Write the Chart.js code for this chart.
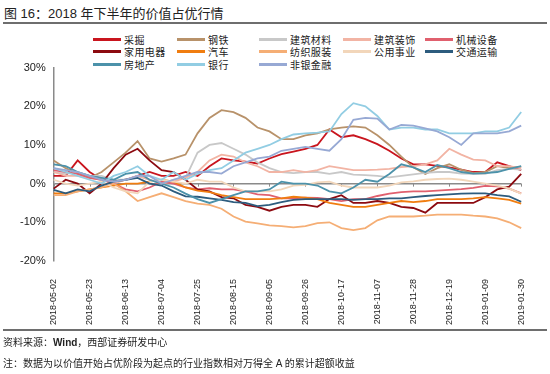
<!DOCTYPE html>
<html>
<head>
<meta charset="utf-8">
<script src="https://cdn.jsdelivr.net/npm/chart.js@4.4.1/dist/chart.umd.min.js"></script>
<style>
  body { margin: 0; width: 550px; height: 374px; background: #fff; position: relative; overflow: hidden;
         font-family: "Liberation Sans", Arial, "Noto Sans CJK SC", sans-serif; color: #222; }
  .title { position: absolute; left: 4px; top: 3px; font-size: 13px; white-space: nowrap; }
  .rule { position: absolute; left: 3px; width: 544px; height: 2px; background: #6e6e6e; }
  #legend .item { position: absolute; display: flex; align-items: center; height: 12px;
                  font-size: 10px; letter-spacing: 0.4px; white-space: nowrap; font-family: "Noto Sans CJK SC", sans-serif; }
  #legend .line { display: inline-block; width: 28px; height: 3px; margin-right: 3px; }
  .chart-box { position: absolute; left: 0; top: 53px; width: 550px; height: 290px; }
  .note { position: absolute; left: 3px; font-size: 10px; white-space: nowrap; }
</style>
</head>
<body>
<div class="title">图 16：2018 年下半年的价值占优行情</div>
<div class="rule" style="top:22px"></div>
<div id="legend"></div>
<div class="chart-box"><canvas id="chart"></canvas></div>
<div class="rule" style="top:329px"></div>
<div class="note" style="top:334px">资料来源：<b>Wind</b>，西部证券研发中心</div>
<div class="note" style="top:355px">注：数据为以价值开始占优阶段为起点的行业指数相对万得全 A 的累计超额收益</div>

<script>
// weekly dates, tick label every 3rd one (21 days)
const dates = [
  '2018-05-02', '2018-05-09', '2018-05-16', '2018-05-23', '2018-05-30', '2018-06-06', '2018-06-13',
  '2018-06-20', '2018-06-27', '2018-07-04', '2018-07-11', '2018-07-18', '2018-07-25', '2018-08-01',
  '2018-08-08', '2018-08-15', '2018-08-22', '2018-08-29', '2018-09-05', '2018-09-12', '2018-09-19',
  '2018-09-26', '2018-10-03', '2018-10-10', '2018-10-17', '2018-10-24', '2018-10-31', '2018-11-07',
  '2018-11-14', '2018-11-21', '2018-11-28', '2018-12-05', '2018-12-12', '2018-12-19', '2018-12-26',
  '2019-01-02', '2019-01-09', '2019-01-16', '2019-01-23', '2019-01-30'
];

const seriesNames = ['采掘', '钢铁', '建筑材料', '建筑装饰', '机械设备',
                     '家用电器', '汽车', '纺织服装', '公用事业', '交通运输',
                     '房地产', '银行', '非银金融'];

// cumulative excess return, %
const mining = [2, 2, 6, 3, 1, 0.5, 1, 2, 3, 2, 2, 3, 2, 4.5, 6.5, 6, 5.7, 5.2, 6.5, 7.6,
                8.3, 9, 10, 14, 12, 12.5, 11.5, 10.2, 8.5, 6.5, 5, 5, 4.6, 4.2, 3.6, 3, 3, 5.5, 4.5, 3.5];
const steel = [6, 4, 2.5, 1.5, 3, 5.5, 8, 11, 6.5, 5.7, 6.5, 7.5, 13, 17, 19, 18.5, 17, 14.5, 13.5, 11.5,
               11.5, 12.5, 13, 14, 14.5, 14.8, 14.5, 12.5, 10, 7, 4.2, 2.5, 4, 5, 3.6, 2.7, 3, 4.5, 4, 4.4];
const buildingMaterials = [3, 2.5, 3, 2, 2, 1, 1, 2, 1, 0, 1, 1.5, 8, 10, 10.5, 9, 7.5, 5.5, 4, 3,
                           2.7, 3, 3, 2.5, 3, 2.3, 2.2, 2, 1.6, 2, 2.4, 2.8, 3, 3, 2.6, 2.5, 2.5, 3.5, 3.8, 3.6];
const buildingDecoration = [3, 2, 2, 1.5, 1, 0, 1, 2, 1, 0, 0.5, 1.5, 3, 6, 7.5, 7, 5.5, 4.5, 3, 3,
                            3.5, 3, 3.5, 4.5, 4, 3.5, 3.5, 3.6, 3.8, 4.3, 4.5, 5, 6, 9, 7.5, 6.2, 6, 4.5, 4.5, 4];
const machinery = [3.5, 3, 2.5, 1.5, 1, 0, -1.5, -2, -1, 0.5, 0, -1, -1.5, -1.2, -1.5, -1.5, -2, -2.8, -3, -3.8,
                   -3.8, -3.6, -3.7, -4, -4.5, -4, -4, -3.2, -2.6, -2.2, -2, -2, -1.8, -1.6, -1.4, -1.1, -0.6, -0.7, -1.3, -2.5];
const homeAppliances = [-1.3, 1, 0, -2.5, 0, 4, 7.5, 9, 6, 3.5, 3, 1, -1.5, -2, -3.5, -3.8, -5.5, -6, -7, -6,
                        -5.5, -5.5, -6, -4, -3, -5, -5, -4.5, -5, -6, -6.3, -7.5, -5, -5, -5, -5, -3.5, -1.5, -0.8, 2.5];
const autos = [-2.5, -2.5, -2, -1.5, -1, -0.5, 0, 0, 0.5, 1, 0.5, -1, -1.8, -2.2, -3, -3.5, -4, -4, -4, -3.8,
               -3.4, -3.6, -4, -5, -5.5, -6, -6, -5.5, -5, -4.5, -4.8, -4.5, -4, -4, -4, -3.8, -3.5, -3.8, -4.2, -5.2];
const textiles = [-3, -3, -2, -1.5, -1, 0, -2, -4.5, -3.5, -2.5, -3.5, -4.5, -5.2, -5.5, -6.5, -8.5, -9.8, -10.3, -10.8, -11,
                  -11.3, -11, -10.2, -10, -11.5, -12, -11.5, -9.5, -8.5, -8.5, -8.5, -8.3, -8, -8, -8, -8.3, -8.5, -9, -10, -11.5];
const utilities = [1, 0, -0.5, 0, 0.5, -1, -2, -2.5, 0.5, 1, 0.5, 0, 1, 0.5, 0.5, -1, -2, -2, -2, -1.5,
                   -0.5, -0.3, 0.3, 0.5, -0.5, -1, -1, -1, -0.5, 0.3, 0.6, 1, 1.2, 1.3, 1, 0.5, 0, -0.5, -1.3, -2.6];
const transport = [-1.6, -2.5, -1.5, -2, -0.5, 0.5, 1, 1.5, 0, -0.5, -2, -3.3, -3.4, -3.8, -4.2, -4.8, -5, -5.8, -5.5, -4.8,
                   -4.2, -4, -4, -4, -4, -4.2, -4, -4, -3.8, -3.8, -3.5, -3.2, -3, -2.8, -2.6, -2.5, -2.5, -3, -3.3, -4.7];
const realEstate = [5, 4.5, 3, 2, 1.5, 1, 2.5, 3, 1, 0, -1, -2.6, -4, -5, -4, -3, -2, -2, -1.5, 0.5,
                    0, 0, -0.5, -2, -2.5, -1, 1, 0.5, 2.5, 5, 4.2, 3, 4.8, 4, 3, 2.6, 2.7, 3, 3.8, 4.5];
const banks = [4, 3, 2, 1, 0, 2, 3, 4.5, 2, 1, 3, 1, 2.5, 3.5, 4, 6, 8, 9, 10, 11.5,
               12.7, 13, 13.2, 13.5, 18, 20.8, 20, 17.5, 14, 14.5, 14.5, 14, 14, 13, 13, 13, 13.5, 13.5, 14.5, 18.5];
const nonBank = [4, 3.5, 3, 2, 1, 0.5, 1, 2, 2, 0, 1, 2, 3, 3, 2.6, 4.5, 5.5, 6.5, 7, 8.5,
                 9, 9.5, 9, 8.5, 11.5, 16.5, 17, 16.8, 14, 15.2, 15, 14.3, 13.5, 12, 10, 13, 13, 13, 13.5, 15];

const seriesData = [mining, steel, buildingMaterials, buildingDecoration, machinery,
                    homeAppliances, autos, textiles, utilities, transport,
                    realEstate, banks, nonBank];

const colors = ['#c9151e', '#b8926a', '#c8c8c8', '#f2b4a4', '#e0606e',
                '#8c0a10', '#f07d10', '#f5ae75', '#f2d6ba', '#2d5c7e',
                '#4c92aa', '#92cde3', '#97a9d4'];

// legend, 5 per row like the original
const legendCols = [93, 177, 259, 343, 425];
const legendRows = [33, 45, 58];
const legend = document.getElementById('legend');
seriesNames.forEach((name, i) => {
    const item = document.createElement('div');
    item.className = 'item';
    item.style.left = legendCols[i % 5] + 'px';
    item.style.top = legendRows[Math.floor(i / 5)] + 'px';
    item.innerHTML = '<span class="line" style="background:' + colors[i] + '"></span>' + name;
    legend.appendChild(item);
});

// small tick marks hanging under the 0% line
const zeroTicks = {
    id: 'zeroTicks',
    beforeDatasetsDraw(chart) {
        const {ctx, scales: {x, y}} = chart;
        const y0 = y.getPixelForValue(0);
        ctx.save();
        ctx.strokeStyle = '#8a8a8a';
        ctx.lineWidth = 1;
        dates.forEach((d, i) => {
            if (i % 3 !== 0) return;
            const px = Math.round(x.getPixelForValue(i)) + 0.5;
            ctx.beginPath();
            ctx.moveTo(px, y0);
            ctx.lineTo(px, y0 + 3);
            ctx.stroke();
        });
        ctx.restore();
    }
};

Chart.defaults.font.family = '"Liberation Sans", Arial, sans-serif';

new Chart(document.getElementById('chart'), {
    type: 'line',
    data: {
        labels: dates,
        datasets: seriesNames.map((name, i) => ({
            label: name,
            data: seriesData[i],
            borderColor: colors[i],
            backgroundColor: colors[i],
            borderWidth: 1.8,
            pointRadius: 0,
            tension: 0,
            order: seriesNames.length - i
        }))
    },
    plugins: [zeroTicks],
    options: {
        responsive: true,
        maintainAspectRatio: false,
        animation: false,
        layout: {
            padding: { left: 12, right: 21, top: 0, bottom: 0 }
        },
        plugins: {
            legend: { display: false },
            tooltip: { enabled: false }
        },
        scales: {
            x: {
                type: 'category',
                grid: { display: false, drawTicks: false },
                border: { display: false },
                ticks: {
                    autoSkip: false,
                    minRotation: 90,
                    maxRotation: 90,
                    padding: 18,
                    color: '#222',
                    font: { size: 9 },
                    callback: (v, i) => i % 3 === 0 ? dates[i] : ''
                }
            },
            y: {
                min: -20,
                max: 30,
                ticks: {
                    stepSize: 10,
                    padding: 8,
                    color: '#222',
                    font: { size: 11 },
                    callback: v => v + '%'
                },
                grid: {
                    drawTicks: false,
                    color: c => c.tick.value === 0 ? '#8a8a8a' : 'rgba(0,0,0,0)',
                    lineWidth: 1.5
                },
                border: { display: true, color: '#8a8a8a', width: 1.5 }
            }
        }
    }
});
</script>
</body>
</html>
